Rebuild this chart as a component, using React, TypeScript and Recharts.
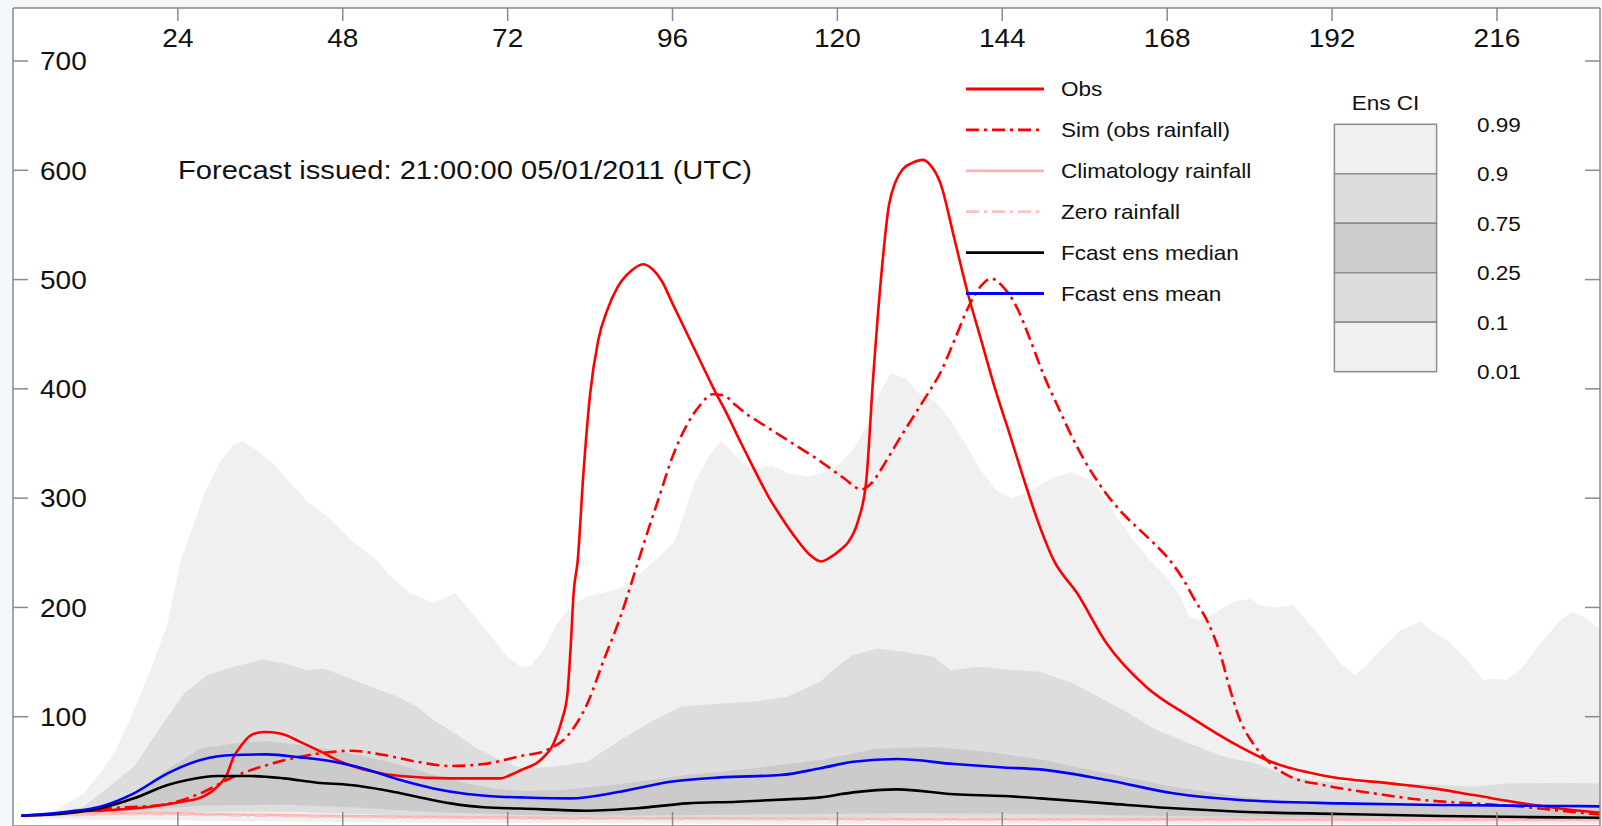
import React from 'react';
import { ComposedChart, Area, Line, XAxis, YAxis, CartesianGrid } from 'recharts';

const FONT = '"Liberation Sans", Arial, Helvetica, sans-serif';
const AX = '#8a8a8a';

const X_TICKS = [24, 48, 72, 96, 120, 144, 168, 192, 216];
const Y_TICKS = [100, 200, 300, 400, 500, 600, 700];
const X_DOMAIN: [number, number] = [0, 231];
const Y_DOMAIN: [number, number] = [0, 748.5];

const TITLE = 'Forecast issued: 21:00:00 05/01/2011 (UTC)';
const LEGEND_LABELS = ['Obs', 'Sim (obs rainfall)', 'Climatology rainfall', 'Zero rainfall', 'Fcast ens median', 'Fcast ens mean'];
const CI_LABELS = ['0.99', '0.9', '0.75', '0.25', '0.1', '0.01'];

// [hour, flow]
const OBS: [number, number][] = [
  [1.2, 9.5], [6, 11], [12.8, 14], [20, 17.6], [24.4, 22], [27.3, 26], [29.2, 33], [31.2, 48], [32.1, 63],
  [33.1, 72.5], [34.6, 83], [36.5, 86], [38.9, 84.7], [41.8, 77], [44.8, 68], [47.7, 58.8], [51.5, 51],
  [56.4, 45.7], [63.7, 43.6], [70.9, 43.6], [72.4, 46.6], [73.9, 51], [76.8, 60.5], [78.7, 75.7], [79.9, 97],
  [80.7, 121], [81.2, 167], [81.6, 213], [82.2, 243], [83, 320], [84, 395], [85.2, 445], [86.5, 472], [88, 493],
  [90, 508], [91.7, 514], [93, 510], [94.5, 498], [96, 478], [98, 452], [100, 426], [102, 400], [104, 376],
  [106, 350], [108, 325], [110, 301], [112, 281], [114, 263], [116, 248], [117.6, 242], [119, 246], [120.5, 253],
  [121.6, 260], [123, 279], [124.2, 316], [125.2, 410], [126.3, 498], [127.5, 568], [128.5, 590], [129.5, 601],
  [131, 607], [132.4, 609.5], [133.5, 605], [135, 588], [137, 538], [139, 487], [141, 443], [143, 399], [145, 360],
  [147, 320], [149, 282], [151.5, 243], [154.9, 213], [159.2, 167], [165, 127], [171.3, 100], [176.7, 79],
  [183, 59], [191.7, 45], [200.4, 39], [206.7, 34.4], [212.6, 28.3], [219.8, 20.7], [225.2, 16], [231, 12],
];

const SIM: [number, number][] = [
  [1.2, 9.4], [8, 11.5], [14.2, 16.2], [21.5, 19.2], [27.3, 29.9], [32.1, 45.1], [37, 55.8], [41.8, 63.4],
  [46.7, 68], [49.1, 68.9], [54, 64.9], [58.8, 58.8], [63.7, 54.9], [68.5, 56.7], [73.9, 64], [77.7, 69.5],
  [80.6, 81.7], [83.6, 112], [86, 152], [88.4, 191], [90.3, 228], [92, 262], [94, 300], [96, 338], [98, 366],
  [100, 385], [101.8, 395], [103.5, 394], [105, 386], [107, 376], [109, 368], [111, 360], [113, 352], [115, 344],
  [117, 336], [119, 327], [121, 318], [123.5, 308], [125, 314], [127, 333], [129, 354], [131, 374], [133, 394],
  [135, 415], [137, 444], [139, 474], [141, 495], [142.4, 501], [144, 494], [146, 476], [148, 446], [150, 413],
  [152, 385], [154, 358], [156, 334], [158, 314], [160, 297], [162, 283], [164, 271], [166, 259], [168.4, 243],
  [170.4, 225], [172, 207], [173.8, 188], [175.7, 158], [177.2, 124], [178.6, 97], [180.5, 75.6], [183, 57.3],
  [185.9, 45.1], [190.7, 37.5], [198, 29.9], [205.3, 23.8], [212.6, 20.7], [219.8, 17.6], [225.2, 14], [231, 10.5],
];

const CLIMATOLOGY: [number, number][] = [
  [1.2, 9.4], [10, 11.5], [20, 11.8], [30, 10.8], [47, 9.1], [74, 7.6], [100, 7], [150, 6.4], [231, 5.8],
];

const ZERO_RAIN: [number, number][] = [
  [1.2, 9.4], [10, 10.8], [20, 11], [30, 10], [47, 8.5], [74, 7], [100, 6.4], [150, 5.8], [231, 5.3],
];

const MEDIAN: [number, number][] = [
  [1.2, 9.4], [7.9, 11.6], [12.7, 16.2], [17.6, 25.3], [22.5, 37.5], [25.4, 42.1], [29.7, 45.7], [34.6, 45.7],
  [39.4, 43.6], [44.3, 39.6], [49.1, 37.5], [54, 32.9], [58.8, 26.8], [63.7, 20.7], [68.5, 17.1], [73.9, 16],
  [83.6, 14], [90.8, 16.2], [98.1, 20.7], [105.4, 22.2], [112.7, 24.4], [117.5, 26.2], [122.3, 30.8],
  [128.7, 33.5], [137, 29], [144.2, 27.4], [149.5, 25.3], [159.2, 20.7], [168.9, 16.2], [178.6, 13.1],
  [193.2, 11], [207.7, 9.1], [225.2, 7.9], [231, 7.6],
];

const MEAN: [number, number][] = [
  [1.2, 9.4], [7.9, 13.1], [12.7, 17.7], [17.6, 29.9], [22.5, 48.2], [27.3, 60.4], [32.1, 64.9], [37, 65.5],
  [41.8, 62.8], [46.7, 58.8], [51.5, 51.8], [56.4, 42.1], [61.2, 34.4], [66.1, 29.3], [70.9, 26.8], [73.9, 26.2],
  [81.1, 25.3], [88.4, 31.4], [95.7, 40.5], [102.9, 44.5], [111.7, 46.6], [117.5, 52.8], [122.3, 58.8],
  [128.7, 61.3], [137, 56.7], [144.2, 53.6], [149.5, 51.8], [159.2, 42.1], [168.9, 29.9], [178.6, 23.8],
  [193.2, 20.7], [207.7, 19.2], [225.2, 18.3], [231, 18],
];

const Q99: [number, number][] = [
  [1.2, 9.4], [5.5, 11.6], [10.3, 29.9], [12.7, 48.2], [15.2, 72.5], [17.6, 106], [20, 142.6], [22.5, 185],
  [24.4, 243], [25.5, 262], [27.9, 305], [30.2, 334], [32.1, 349], [33.5, 352], [35.4, 344], [37.6, 333],
  [39.8, 318], [42.8, 297], [45.8, 283], [49.5, 260], [53, 243], [54.5, 231], [57.8, 213], [61.2, 204],
  [64.4, 213], [68.5, 182], [71.9, 155], [73.9, 146], [75.3, 146], [77.2, 161], [79.2, 185], [81.5, 203],
  [83.6, 210], [85.5, 213], [88.4, 217], [91.3, 231], [94, 246], [96.3, 260], [97.8, 288], [99.3, 316],
  [101.5, 340], [103, 352], [104.5, 344], [106, 333], [108.2, 327], [110.4, 330], [112.7, 323], [115.6, 320],
  [117.9, 323], [120.1, 330], [122.3, 344], [124.3, 367], [126, 395], [127.8, 414], [129.8, 410], [132, 395],
  [134.2, 389], [136.4, 372], [138.7, 349], [140.9, 325], [143.1, 307], [145.4, 300], [148, 306], [151, 318],
  [154, 324], [157, 316], [159, 300], [161, 280], [163, 262], [165.5, 243], [167.9, 228], [169.9, 210],
  [171.3, 191], [172.8, 188], [174.7, 194], [177.6, 205], [180.1, 208], [181.5, 202], [183.5, 200],
  [186.4, 202], [188.3, 188], [190.7, 170], [193.2, 149], [195.3, 138], [196.8, 146], [199.5, 164],
  [201.9, 179], [204.8, 187], [206.7, 178], [208.7, 170], [211.6, 152], [214, 133.5], [216, 135],
  [217.4, 133.5], [219.4, 143], [222.3, 167], [225.2, 188], [227, 196], [229, 190], [231, 180],
];

const Q90: [number, number][] = [
  [1.2, 9.4], [5, 11], [10.3, 17.7], [17.6, 54.2], [21.5, 90.8], [24.9, 121.3], [28.3, 138.1], [32.1, 145.7],
  [36.5, 152.4], [39.4, 148.8], [42.8, 142.6], [45.2, 144.2], [49.1, 135], [51.5, 128.9], [55.4, 119.8],
  [58.8, 109.1], [61.2, 96.9], [65.1, 81.7], [67.1, 72.5], [70, 63.4], [73.9, 53], [78.7, 54.2], [83.6, 58.8],
  [88.4, 78.6], [93.3, 96.9], [97.1, 109.1], [102.9, 112.2], [107.8, 113.7], [112.7, 118.3], [117.5, 132],
  [119.9, 145.7], [122.3, 156.4], [125.8, 162.5], [129.6, 159.4], [134, 154.8], [136.4, 142.6], [140.8, 145.7],
  [145.6, 142.6], [149.5, 141.1], [154.4, 130.5], [161.6, 106], [166.5, 87.8], [171.3, 75.6], [176.2, 63.4],
  [181, 57.3], [185.9, 45.1], [190.7, 40.5], [198, 39], [205.3, 38.4], [212.6, 36], [217.4, 39], [225.2, 39.6],
  [231, 39],
];

const Q75: [number, number][] = [
  [1.2, 9.4], [7.9, 12.5], [12.7, 17], [17.6, 30], [22.5, 52], [27.3, 71], [32.1, 75.6], [37, 77.7], [41.8, 74],
  [46.7, 69.5], [51.5, 63.4], [56.4, 55.8], [61.2, 46.6], [66.1, 39], [70, 34.4], [73.9, 32], [80, 33],
  [88.4, 38.4], [98.1, 46.6], [107.8, 52.8], [117.5, 60.4], [125.8, 71], [134.5, 72], [141.8, 68], [149.5, 61],
  [159.2, 48.2], [168.9, 36], [178.6, 26.8], [188.3, 22.2], [198, 19.2], [212.6, 17.1], [225.2, 16.2], [231, 16],
];

const Q25: [number, number][] = [
  [1.2, 9], [10, 10.5], [20, 15], [28, 19], [40, 19.5], [50, 17], [60, 13], [75, 10], [90, 9.5], [110, 10.5],
  [130, 12], [150, 11], [170, 9], [190, 8], [210, 7.5], [231, 7],
];

const Q10: [number, number][] = [
  [1.2, 8.5], [10, 9], [20, 11.5], [30, 13], [40, 13], [50, 11], [60, 9], [75, 7.5], [100, 7.5], [130, 8.5],
  [160, 7.5], [190, 6.5], [231, 6],
];

const Q01: [number, number][] = [
  [1.2, 7], [10, 6], [30, 4.5], [60, 3], [100, 2], [231, 1.5],
];

const toData = (pts: [number, number][]) => pts.map(([h, v]) => ({ h, v }));

const TopTick = (props: any) => {
  const { x, y, payload } = props;
  return (
    <text transform={`translate(${x},${y + 26}) scale(1.12,1)`} textAnchor="middle" fontSize={25} fontFamily={FONT} fill="#111">
      {payload.value}
    </text>
  );
};

const LeftTick = (props: any) => {
  const { x, y, payload } = props;
  return (
    <text transform={`translate(${x},${y + 9.3}) scale(1.12,1)`} textAnchor="start" fontSize={25} fontFamily={FONT} fill="#111">
      {payload.value}
    </text>
  );
};

const NoTick = () => <g />;

const BANDS: { pts: [number, number][]; fill: string }[] = [
  { pts: Q99, fill: '#f0f0f0' },
  { pts: Q90, fill: '#dddddd' },
  { pts: Q75, fill: '#cbcbcb' },
  { pts: Q25, fill: '#dddddd' },
  { pts: Q10, fill: '#f0f0f0' },
  { pts: Q01, fill: '#ffffff' },
];

const DASHDOT = '13 5 3 5';
const LEGEND_STYLE = [
  { color: '#ff0000', dash: undefined as string | undefined },
  { color: '#ff0000', dash: DASHDOT },
  { color: '#ffb0b0', dash: undefined },
  { color: '#ffc0c0', dash: DASHDOT },
  { color: '#000000', dash: undefined },
  { color: '#0000ff', dash: undefined },
];
const CI_FILLS = ['#f0f0f0', '#dddddd', '#cccccc', '#dddddd', '#f0f0f0'];

export default function App() {
  const lineCommon = { xAxisId: 't', yAxisId: 'l', dataKey: 'v', dot: false, activeDot: false, isAnimationActive: false, type: 'monotone' as const };
  return (
    <div style={{ position: 'absolute', left: 0, top: 0, width: 1602, height: 826, overflow: 'hidden', background: '#f4f8fb' }}>
      <ComposedChart width={1602} height={830} margin={{ top: 8, left: 13, right: 2, bottom: 4 }}>
        <CartesianGrid xAxisId="t" yAxisId="l" horizontal={false} vertical={false} fill="#ffffff" />
        {BANDS.map((b, i) => (
          <Area
            key={i}
            xAxisId="t"
            yAxisId="l"
            data={toData(b.pts)}
            dataKey="v"
            type="linear"
            stroke="none"
            fill={b.fill}
            fillOpacity={1}
            baseValue={0}
            dot={false}
            activeDot={false}
            isAnimationActive={false}
          />
        ))}
        <Line {...lineCommon} data={toData(OBS)} stroke="#ff0000" strokeWidth={2.6} />
        <Line {...lineCommon} data={toData(SIM)} stroke="#ff0000" strokeWidth={2.6} strokeDasharray={DASHDOT} />
        <Line {...lineCommon} data={toData(CLIMATOLOGY)} stroke="#ffb0b0" strokeWidth={2.5} />
        <Line {...lineCommon} data={toData(ZERO_RAIN)} stroke="#ffc0c0" strokeWidth={2.5} strokeDasharray={DASHDOT} />
        <Line {...lineCommon} data={toData(MEDIAN)} stroke="#000000" strokeWidth={2.6} />
        <Line {...lineCommon} data={toData(MEAN)} stroke="#0000ff" strokeWidth={2.6} />
        <XAxis
          xAxisId="t"
          orientation="top"
          type="number"
          dataKey="h"
          domain={X_DOMAIN}
          ticks={X_TICKS}
          interval={0}
          allowDataOverflow
          mirror
          tickSize={13}
          tickMargin={0}
          axisLine={{ stroke: AX, strokeWidth: 1.5 }}
          tickLine={{ stroke: AX, strokeWidth: 1.5 }}
          tick={<TopTick />}
        />
        <XAxis
          xAxisId="b"
          orientation="bottom"
          type="number"
          dataKey="h"
          domain={X_DOMAIN}
          ticks={X_TICKS}
          interval={0}
          allowDataOverflow
          mirror
          tickSize={14}
          axisLine={{ stroke: AX, strokeWidth: 1.5 }}
          tickLine={{ stroke: AX, strokeWidth: 1.5 }}
          tick={<NoTick />}
        />
        <YAxis
          yAxisId="l"
          orientation="left"
          type="number"
          domain={Y_DOMAIN}
          ticks={Y_TICKS}
          interval={0}
          allowDataOverflow
          mirror
          tickSize={15}
          tickMargin={12}
          axisLine={{ stroke: AX, strokeWidth: 1.5 }}
          tickLine={{ stroke: AX, strokeWidth: 1.5 }}
          tick={<LeftTick />}
        />
        <YAxis
          yAxisId="r"
          orientation="right"
          type="number"
          domain={Y_DOMAIN}
          ticks={Y_TICKS}
          interval={0}
          allowDataOverflow
          mirror
          tickSize={15}
          axisLine={{ stroke: AX, strokeWidth: 1.5 }}
          tickLine={{ stroke: AX, strokeWidth: 1.5 }}
          tick={<NoTick />}
        />
      </ComposedChart>
      <svg width={1602} height={826} style={{ position: 'absolute', left: 0, top: 0, pointerEvents: 'none' }}>
        <text transform="translate(178,179.3) scale(1.12,1)" fontSize={26} fontFamily={FONT} fill="#111">{TITLE}</text>
        {LEGEND_LABELS.map((lab, i) => {
          const y = 89 + i * 40.9;
          const st = LEGEND_STYLE[i];
          return (
            <g key={lab}>
              <line x1={966} x2={1044} y1={y} y2={y} stroke={st.color} strokeWidth={2.8} strokeDasharray={st.dash} />
              <text transform={`translate(1061,${y + 7}) scale(1.1,1)`} fontSize={20.5} fontFamily={FONT} fill="#111">{lab}</text>
            </g>
          );
        })}
        <text transform="translate(1385.5,109.5) scale(1.1,1)" textAnchor="middle" fontSize={20.5} fontFamily={FONT} fill="#111">Ens CI</text>
        {CI_FILLS.map((f, i) => (
          <rect key={i} x={1334.4} y={124.3 + i * 49.48} width={102.2} height={49.48} fill={f} stroke="#8c8c8c" strokeWidth={1.5} />
        ))}
        {CI_LABELS.map((lab, i) => (
          <text key={lab} transform={`translate(1477,${124.3 + i * 49.48 + 7.3}) scale(1.1,1)`} fontSize={20.5} fontFamily={FONT} fill="#111">{lab}</text>
        ))}
      </svg>
    </div>
  );
}
